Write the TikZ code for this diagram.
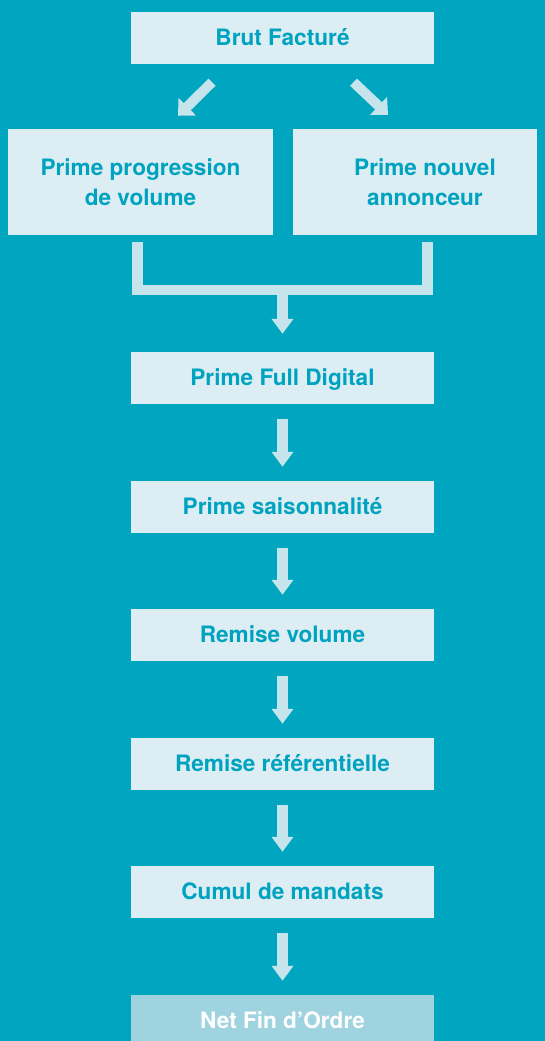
\documentclass[tikz,border=0pt]{standalone}
\usepackage{fontspec}
\setmainfont{TeX Gyre Heros}
\usetikzlibrary{arrows.meta}
\definecolor{bg}{HTML}{00A5C0}
\definecolor{boxfill}{HTML}{DCEEF3}
\definecolor{arrowc}{HTML}{C6E4EB}
\definecolor{txt}{HTML}{00A3BF}
\definecolor{lastfill}{HTML}{9FD3E0}
\begin{document}
\begin{tikzpicture}[x=1pt,y=-1pt,
  lbl/.style={font=\bfseries\fontsize{22.6}{30}\selectfont, text=txt, align=center, inner sep=0pt},
  stepbox/.style={lbl, fill=boxfill, minimum width=303pt, minimum height=52pt, text height=15.4pt, text depth=0pt},
  lastbox/.style={stepbox, fill=lastfill, text=white},
  bigbox/.style={fill=boxfill, minimum height=106pt, inner sep=0pt},
  varrow/.style={draw=arrowc, line width=10.5pt, -{Triangle[length=15pt,width=21pt]}, arrowc},
  darrow/.style={draw=arrowc, line width=10pt, -{Triangle[length=13pt,width=24pt]}, arrowc},
  bar/.style={draw=arrowc, line width=10.5pt, line join=miter}]
\fill[bg] (0,0) rectangle (545,1041);
\clip (0,0) rectangle (545,1041);
% boxes
\node[stepbox] (B) at (282.5,38) {Brut Facturé};
\node[bigbox, minimum width=265pt] (L) at (140.5,182) {};
\node[lbl] (Lt) at (140.5,182) {Prime progression\\de volume};
\node[bigbox, minimum width=244pt] (R) at (415,182) {};
\node[lbl] (Rt) at (425,182) {Prime nouvel\\annonceur};
\node[stepbox] (F) at (282.5,378) {Prime Full Digital};
\node[stepbox] (S) at (282.5,507) {Prime saisonnalité};
\node[stepbox] (V) at (282.5,635) {Remise volume};
\node[stepbox] (Rf) at (282.5,764) {Remise référentielle};
\node[stepbox] (C) at (282.5,892) {Cumul de mandats};
\node[lastbox] (N) at (282.5,1021) {Net Fin d’Ordre};
% diagonal arrows
\draw[darrow] ([shift={(-70.5,18)}]B.south) -- ([shift={(37.5,-13)}]L.north);
\draw[darrow] ([shift={(71,18)}]B.south) -- ([shift={(-27,-14)}]R.north);
% bracket
\coordinate (J) at (282.5,290);
\draw[bar] ([xshift=-3pt,yshift=-7pt]L.south) |- (J) -| ([xshift=12.5pt,yshift=-7pt]R.south);
\draw[varrow] (J) -- ([yshift=18pt]F.north);
% vertical arrows
\draw[varrow] ([yshift=-15pt]F.south) -- ([yshift=14pt]S.north);
\draw[varrow] ([yshift=-15pt]S.south) -- ([yshift=14pt]V.north);
\draw[varrow] ([yshift=-15pt]V.south) -- ([yshift=14pt]Rf.north);
\draw[varrow] ([yshift=-15pt]Rf.south) -- ([yshift=14pt]C.north);
\draw[varrow] ([yshift=-15pt]C.south) -- ([yshift=14pt]N.north);
\end{tikzpicture}
\end{document}
